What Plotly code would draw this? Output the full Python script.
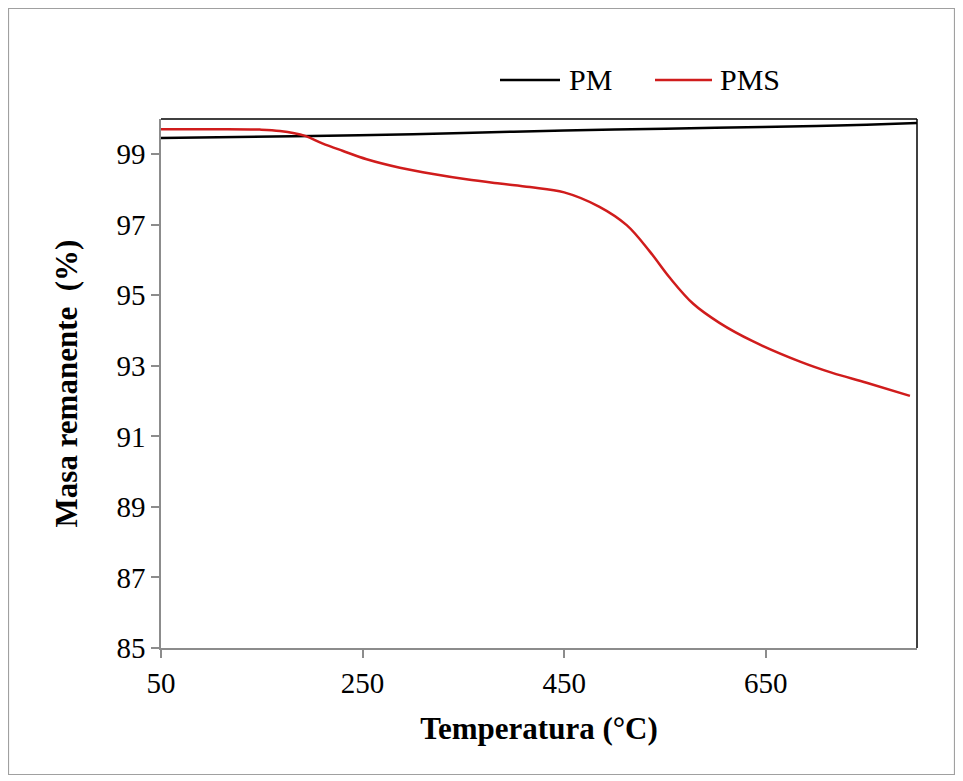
import plotly.graph_objects as go

# Data
temp_pm = [50, 200, 300, 400, 500, 600, 700, 750, 800]
masa_pm = [99.46, 99.52, 99.57, 99.64, 99.70, 99.75, 99.80, 99.84, 99.89]

temp_pms = [50, 100, 148, 168, 193, 210, 230, 254, 287, 320, 353, 386, 416, 450,
            485, 512, 535, 555, 578, 604, 637, 684, 716, 750, 793]
masa_pms = [99.71, 99.71, 99.70, 99.66, 99.52, 99.31, 99.10, 98.86, 98.62, 98.44,
            98.29, 98.17, 98.07, 97.92, 97.51, 96.99, 96.24, 95.49, 94.76, 94.22,
            93.70, 93.12, 92.80, 92.52, 92.15]

x_ticks = [50, 250, 450, 650]
y_ticks = [85, 87, 89, 91, 93, 95, 97, 99]

series_names = ["PM", "PMS"]
series_colors = ["black", "#d01c1c"]

W, H = 963, 781
L, R, T, B = 153, 54, 111, 141
pw, ph = W - L - R, H - T - B

serif = "Liberation Serif, Times New Roman, serif"


def fx(px):
    return (px - L) / pw


def fy(py):
    return (H - B - py) / ph


fig = go.Figure()
fig.add_trace(go.Scatter(x=temp_pm, y=masa_pm, mode="lines", name=series_names[0],
                         line=dict(color=series_colors[0], width=2.5, shape="spline",
                                   smoothing=0.8)))
fig.add_trace(go.Scatter(x=temp_pms, y=masa_pms, mode="lines", name=series_names[1],
                         line=dict(color=series_colors[1], width=2.5, shape="spline",
                                   smoothing=1.0)))

shapes = [
    dict(type="rect", xref="paper", yref="paper",
         x0=fx(0.5), x1=fx(946.5), y0=fy(766.5), y1=fy(0.5),
         line=dict(color="#a0a0a0", width=1.2), layer="below"),
    dict(type="line", xref="paper", yref="paper", x0=0, x1=1, y0=1, y1=1,
         line=dict(color="black", width=1.5)),
    dict(type="line", xref="paper", yref="paper", x0=1, x1=1, y0=0, y1=1,
         line=dict(color="black", width=1.5)),
]

# legend drawn manually (Excel-style long line samples)
leg_y = 72
leg_items = [(492, 552, 559), (647, 704, 710)]
annotations = []
for (lx0, lx1, tx), name, col in zip(leg_items, series_names, series_colors):
    shapes.append(dict(type="line", xref="paper", yref="paper",
                       x0=fx(lx0), x1=fx(lx1), y0=fy(leg_y), y1=fy(leg_y),
                       line=dict(color=col, width=2.5)))
    annotations.append(dict(text=name, xref="paper", yref="paper",
                            x=fx(tx), y=fy(leg_y), xanchor="left", yanchor="middle",
                            showarrow=False,
                            font=dict(family=serif, size=30, color="black")))

fig.update_layout(
    width=W, height=H,
    margin=dict(l=L, r=R, t=T, b=B, pad=0),
    paper_bgcolor="white", plot_bgcolor="white",
    shapes=shapes,
    annotations=annotations,
    showlegend=False,
    xaxis=dict(range=[50, 800], tickmode="array", tickvals=x_ticks,
               ticktext=[str(v) for v in x_ticks],
               showgrid=False, zeroline=False,
               showline=True, linecolor="#8c8c8c", linewidth=1.5,
               ticks="outside", ticklen=8, tickcolor="#8c8c8c", tickwidth=1.5,
               tickfont=dict(family=serif, size=29, color="black"),
               title=dict(text="<b>Temperatura (°C)</b>", standoff=20,
                          font=dict(family=serif, size=31, color="black"))),
    yaxis=dict(range=[85, 100], tickmode="array", tickvals=y_ticks,
               ticktext=[str(v) for v in y_ticks],
               showgrid=False, zeroline=False,
               showline=True, linecolor="#8c8c8c", linewidth=1.5,
               ticks="outside", ticklen=8, tickcolor="#8c8c8c", tickwidth=1.5,
               tickfont=dict(family=serif, size=29, color="black"),
               title=dict(text="<b>Masa remanente  (%)</b>", standoff=30,
                          font=dict(family=serif, size=31, color="black"))),
)

fig.write_html("out.html")
